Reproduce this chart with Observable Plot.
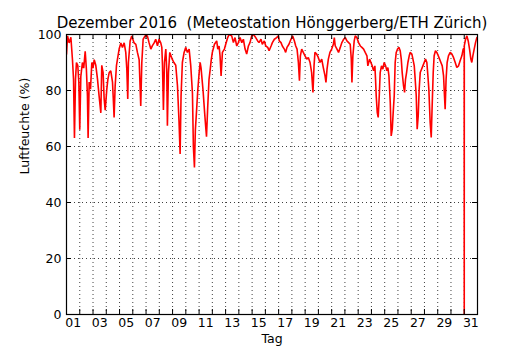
<!DOCTYPE html>
<html>
<head>
<meta charset="utf-8">
<script src="https://cdn.jsdelivr.net/npm/d3@7"></script>
<script src="https://cdn.jsdelivr.net/npm/@observablehq/plot@0.6"></script>
<style>
  html, body { margin: 0; padding: 0; background: white; }
  #chart { width: 530px; height: 350px; }
</style>
</head>
<body>
<div id="chart"></div>
<script>
// Zeit in Tagen seit 1. Dezember 2016 00:00
const tage = [
  0.0, 0.08, 0.2, 0.33, 0.45, 0.53, 0.6, 0.68, 0.75, 0.85, 0.93, 1.0, 1.08, 1.2, 1.3, 1.41, 1.5, 1.58, 1.63, 1.71, 1.81, 1.91,
  2.0, 2.09, 2.21, 2.34, 2.46, 2.59, 2.66, 2.76, 2.84, 2.92, 3.04, 3.12, 3.22, 3.34, 3.47, 3.54, 3.59, 3.67, 3.77, 3.84, 3.97,
  4.1, 4.22, 4.35, 4.47, 4.55, 4.62, 4.67, 4.8, 4.92, 5.1, 5.23, 5.35, 5.48, 5.6, 5.68, 5.78, 5.93,
  6.1, 6.23, 6.36, 6.48, 6.61, 6.73, 6.86, 6.98, 7.11, 7.19, 7.24, 7.31, 7.39, 7.49, 7.56, 7.61, 7.69, 7.79, 7.99,
  8.1, 8.24, 8.37, 8.49, 8.57, 8.64, 8.74, 8.87, 8.99, 9.12, 9.25, 9.37, 9.5, 9.57, 9.65, 9.72, 9.8, 9.9,
  10.0, 10.08, 10.15, 10.3, 10.42, 10.5, 10.56, 10.65, 10.75, 10.85, 10.92, 11.0, 11.16, 11.33, 11.41, 11.51, 11.58, 11.66, 11.76, 11.91,
  12.01, 12.16, 12.26, 12.46, 12.59, 12.71, 12.84, 12.96, 13.09, 13.22, 13.34, 13.47, 13.59, 13.72, 13.84, 13.97,
  14.1, 14.27, 14.42, 14.52, 14.67, 14.77, 14.92, 15.03, 15.18, 15.28, 15.43, 15.53, 15.68, 15.85, 15.98,
  16.05, 16.18, 16.28, 16.43, 16.53, 16.63, 16.78, 16.93, 17.06, 17.19, 17.29, 17.39, 17.49, 17.57, 17.64, 17.74, 17.86, 17.99,
  18.12, 18.24, 18.37, 18.49, 18.59, 18.67, 18.74, 18.87, 18.99, 19.12, 19.25, 19.37, 19.5, 19.57, 19.65, 19.75, 19.87,
  20.0, 20.13, 20.2, 20.27, 20.4, 20.52, 20.65, 20.77, 20.9, 21.03, 21.15, 21.28, 21.4, 21.48, 21.53, 21.6, 21.7, 21.78, 21.9,
  22.03, 22.16, 22.28, 22.41, 22.53, 22.66, 22.73, 22.86, 22.96, 23.06, 23.16, 23.26, 23.31, 23.36, 23.44, 23.51, 23.59, 23.66, 23.76, 23.86, 23.96,
  24.07, 24.17, 24.24, 24.32, 24.42, 24.49, 24.57, 24.64, 24.72, 24.79, 24.87, 24.97, 25.07, 25.17, 25.25, 25.32, 25.42, 25.5, 25.57, 25.65, 25.75, 25.85, 25.92,
  26.05, 26.13, 26.23, 26.3, 26.38, 26.45, 26.53, 26.6, 26.68, 26.78, 26.88, 26.98, 27.08, 27.18, 27.26, 27.33, 27.43, 27.51, 27.58, 27.66, 27.73, 27.83, 27.93,
  28.04, 28.14, 28.24, 28.34, 28.44, 28.51, 28.56, 28.63, 28.71, 28.81, 28.94, 29.07, 29.19, 29.32, 29.44, 29.57, 29.69, 29.82, 29.92, 29.995,
  30.0, 30.005, 30.1, 30.2, 30.3, 30.4, 30.5, 30.57, 30.65, 30.75, 30.85, 30.95, 31.0
];
// Relative Luftfeuchte (%)
const feuchte = [
  93, 99.5, 97, 99, 91, 84, 63, 84, 90, 89, 83, 66, 85, 90, 88, 94, 87.6, 78, 63, 83, 80.5, 90,
  88, 91, 89, 84, 78, 72, 89, 86.4, 77, 73, 80.5, 84, 86.4, 87, 83, 76, 70.4, 81.7, 89, 91, 94.8,
  97, 95.4, 97, 93.6, 87.6, 77, 90, 97.7, 99.5, 97, 96.5, 93.6, 91, 74.5, 90, 98.3, 99.5,
  99.5, 97, 94.8, 96, 97, 98.3, 96, 98.3, 97, 95.4, 89, 73, 90, 94.8, 87.6, 67.4, 86.4, 93.6, 91,
  90, 89, 81.7, 68.6, 57.3, 78, 90, 93.6, 95.4, 93.6, 94.8, 89, 79, 60, 52.5, 66, 72, 80,
  86, 90, 88, 80, 72, 67, 63.5, 74, 84, 88, 91, 93.6, 96.5, 97.7, 94.8, 95.9, 92.4, 85.2, 93.6, 94.8,
  96.5, 98.9, 100, 99.5, 97.1, 98.9, 95.9, 97.1, 98.9, 97.1, 98.3, 94.8, 93.0, 95.9, 97.1, 99.5,
  100, 98.9, 97.7, 97.1, 98.3, 96.5, 97.7, 95.9, 95.4, 94.2, 95.9, 97.1, 98.3, 98.9, 99.5,
  97.7, 97.1, 95.9, 94.8, 93.6, 95.4, 96.5, 98.3, 99.5, 97.7, 95.9, 94.8, 90, 83.5, 92.4, 94.8, 93.6, 92.4,
  91.2, 91.8, 90, 86.4, 79.3, 88.8, 93.6, 93, 91.8, 90, 91.2, 88.2, 85.2, 82.9, 87.6, 91.2, 93.6,
  94.8, 96.5, 98.9, 95.9, 94.8, 93.6, 95.4, 97.1, 98.3, 98.9, 97.7, 97.1, 96.5, 91.2, 82.9, 92.4, 97.7, 99.5, 98.9,
  97.1, 95.9, 95.4, 94.8, 93.6, 92.4, 88.8, 91.2, 90, 88.8, 87, 88.8, 84, 78.1, 72.1, 70.4, 78.1, 86.4, 88.8, 87.6, 90,
  88.8, 87, 88.2, 85.2, 75.7, 63.8, 66.2, 72.1, 78.1, 90, 93.6, 94.8, 95.4, 94.2, 91.2, 86.4, 81.7, 79.3, 84, 86.4, 90, 92.4, 93.6,
  93, 91.2, 88.8, 84, 78.1, 66.2, 71, 80.5, 86.4, 87.6, 88.8, 90, 91.2, 90, 85.2, 80.5, 68.6, 63.2, 74.5, 86.4, 92.4, 94.2, 93.6,
  92.4, 91.2, 90, 88.8, 85.2, 78.1, 73.3, 84, 90, 92.4, 93.6, 93, 91.8, 90, 88.2, 88.8, 90.6, 92.4, 94.8, 95,
  0, 96, 98.3, 99.5, 97.7, 94.8, 91.2, 90, 92.4, 94.8, 97.1, 98.9, 99
];
// Achsen
const tickTage = d3.range(0, 32);             // Mitternacht jedes Tages
const gridTage = d3.range(1, 31);
const labelTage = d3.range(1, 32, 2);         // 01, 03, ..., 31
const yTicks = [0, 20, 40, 60, 80, 100];
const yGrid = [20, 40, 60, 80];

const titel = "Dezember 2016  (Meteostation Hönggerberg/ETH Zürich)";
const xTitel = "Tag";
const yTitel = "Luftfeuchte (%)";

const innerW = 530 - 66 - 53;
const innerH = 350 - 34 - 36;
const tickLen = 5;

const chart = Plot.plot({
  width: 530,
  height: 350,
  marginLeft: 66,
  marginRight: 53,
  marginTop: 34,
  marginBottom: 36,
  x: {domain: [0, 31], axis: null},
  y: {domain: [0, 100], axis: null},
  style: {fontFamily: "'DejaVu Sans', sans-serif", fontSize: "12px", background: "white", overflow: "visible", color: "black"},
  marks: [
    Plot.ruleY(yGrid, {y: d => d, stroke: "#000", strokeWidth: 1, strokeDasharray: "1,3", strokeOpacity: 0.75}),
    Plot.ruleX(gridTage, {x: d => d, stroke: "#000", strokeWidth: 1, strokeDasharray: "1,3", strokeOpacity: 0.75}),
    Plot.line(tage.map((t, i) => i), {x: i => tage[i], y: i => feuchte[i], stroke: "#ff0000", strokeWidth: 1.6, strokeLinejoin: "miter", clip: true}),
    // ticks inward, bottom & top
    Plot.ruleX(tickTage, {x: d => d, stroke: "#000", strokeWidth: 1, insetTop: innerH - tickLen}),
    Plot.ruleX(tickTage, {x: d => d, stroke: "#000", strokeWidth: 1, insetBottom: innerH - tickLen}),
    // ticks inward, left & right
    Plot.ruleY(yTicks, {y: d => d, stroke: "#000", strokeWidth: 1, insetRight: innerW - tickLen}),
    Plot.ruleY(yTicks, {y: d => d, stroke: "#000", strokeWidth: 1, insetLeft: innerW - tickLen}),
    Plot.frame({stroke: "#000", strokeWidth: 1.2}),
    Plot.text(labelTage, {x: d => d - 0.5, frameAnchor: "bottom", dy: 12.5, text: d => String(d).padStart(2, "0"), fill: "#000", fontSize: 12.5}),
    Plot.text(yTicks, {y: d => d, frameAnchor: "left", dx: -5, textAnchor: "end", text: d => String(d), fill: "#000", fontSize: 12.5}),
    Plot.text([xTitel], {frameAnchor: "bottom", dy: 28, text: d => d, fill: "#000", fontSize: 12.5}),
    Plot.text([yTitel], {frameAnchor: "left", dx: -42, rotate: -90, text: d => d, fill: "#000", fontSize: 12.5}),
    Plot.text([titel], {frameAnchor: "top", dy: -17, text: d => d, fill: "#000", fontSize: 15})
  ]
});
document.getElementById("chart").appendChild(chart);
</script>
</body>
</html>
